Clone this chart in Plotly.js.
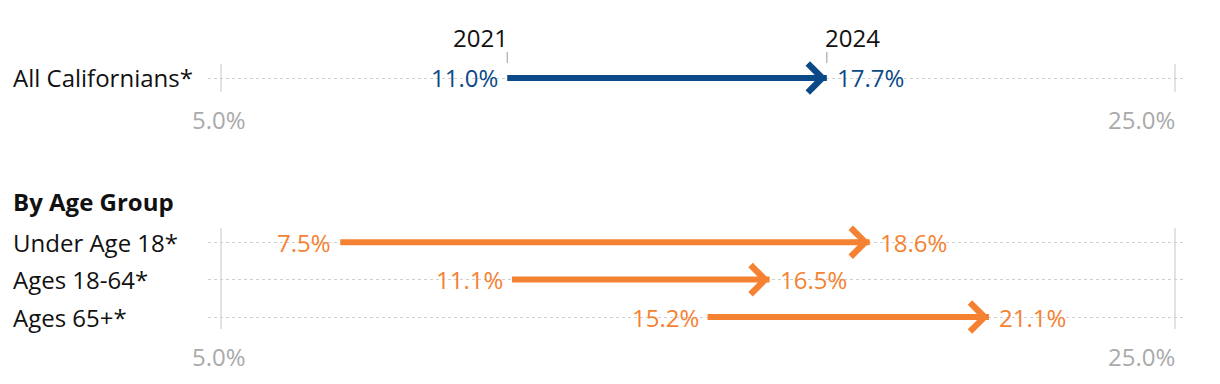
<!DOCTYPE html>
<html>
<head>
<meta charset="utf-8">
<script src="https://cdn.plot.ly/plotly-3.0.1.min.js"></script>
<style>html,body{margin:0;padding:0;background:#fff;}#chart{width:1220px;height:384px;}</style>
</head>
<body>
<div id="chart"></div>
<script>
// ---- data ----
var years = ['2021', '2024'];
var topCategories = ['All Californians*'];
var topStart = [11.0];
var topEnd = [17.7];
var groupTitle = 'By Age Group';
var ageCategories = ['Under Age 18*', 'Ages 18-64*', 'Ages 65+*'];
var ageStart = [7.5, 11.1, 15.2];
var ageEnd = [18.6, 16.5, 21.1];
var axisTickVals = [5, 25];
var axisTickText = ['5.0%', '25.0%'];

// ---- styling ----
var BLUE = '#0b4a86';
var ORANGE = '#f58232';
var FONT = 'Open Sans, Noto Sans, sans-serif';
var FS = 24;
var W = 1220, H = 384, ML = 208, MR = 34;
var plotW = W - ML - MR;
var xRange = [4.727, 25.23];

function fmt(v) { return v.toFixed(1) + '%'; }

var traces = [];
var annotations = [];
var shapes = [];

function addRows(cats, starts, ends, color, xa, ya) {
  for (var i = 0; i < cats.length; i++) {
    traces.push({
      type: 'scatter', mode: 'lines',
      x: [starts[i], ends[i]], y: [cats[i], cats[i]],
      xaxis: xa, yaxis: ya,
      line: {color: color, width: 6},
      hoverinfo: 'skip', showlegend: false, cliponaxis: false
    });
    annotations.push({
      x: ends[i], y: cats[i], xref: xa, yref: ya,
      ax: -20, ay: 0, axref: 'pixel', ayref: 'pixel',
      text: '', showarrow: true, arrowhead: 4, arrowsize: 1.12,
      arrowwidth: 5, arrowcolor: color, standoff: 0
    });
    annotations.push({
      x: starts[i], y: cats[i], xref: xa, yref: ya,
      text: fmt(starts[i]), showarrow: false, xanchor: 'right',
      xshift: -7, font: {family: FONT, size: FS, color: color}
    });
    annotations.push({
      x: ends[i], y: cats[i], xref: xa, yref: ya,
      text: fmt(ends[i]), showarrow: false, xanchor: 'left',
      xshift: 8, font: {family: FONT, size: FS, color: color}
    });
    annotations.push({
      x: (12 - ML) / plotW, y: cats[i], xref: 'paper', yref: ya,
      text: cats[i], showarrow: false, xanchor: 'left', xshift: -1,
      font: {family: FONT, size: FS, color: '#111'}
    });
  }
}

addRows(topCategories, topStart, topEnd, BLUE, 'x', 'y');
addRows(ageCategories, ageStart, ageEnd, ORANGE, 'x2', 'y2');

// axis value labels (5.0% centred, 25.0% right-aligned at its gridline)
[['x', 'y domain'], ['x2', 'y2 domain']].forEach(function (r) {
  annotations.push({
    x: axisTickVals[0], y: 0, xref: r[0], yref: r[1], yanchor: 'middle', yshift: -27,
    text: axisTickText[0], showarrow: false, xanchor: 'center', xshift: -2,
    font: {family: FONT, size: FS, color: '#aaaaaa'}
  });
  annotations.push({
    x: axisTickVals[1], y: 0, xref: r[0], yref: r[1], yanchor: 'middle', yshift: -27,
    text: axisTickText[1], showarrow: false, xanchor: 'right', xshift: 2,
    font: {family: FONT, size: FS, color: '#aaaaaa'}
  });
});

// year labels over the top row, with small tick marks
annotations.push({
  x: topStart[0], y: 1, xref: 'x', yref: 'y domain', yanchor: 'middle', yshift: 26,
  text: years[0], showarrow: false, xanchor: 'right', xshift: 3,
  font: {family: FONT, size: FS, color: '#111'}
});
annotations.push({
  x: topEnd[0], y: 1, xref: 'x', yref: 'y domain', yanchor: 'middle', yshift: 26,
  text: years[1], showarrow: false, xanchor: 'left', xshift: -4,
  font: {family: FONT, size: FS, color: '#111'}
});
[topStart[0], topEnd[0]].forEach(function (v) {
  shapes.push({
    type: 'line', xref: 'x', yref: 'paper', x0: v, x1: v,
    y0: 1 - 63 / H, y1: 1 - 52 / H, line: {color: '#999', width: 1}
  });
});
annotations.push({
  x: (12 - ML) / plotW, y: 1, xref: 'paper', yref: 'y2 domain', yanchor: 'middle', yshift: 27,
  text: '<b>' + groupTitle + '</b>', showarrow: false, xanchor: 'left', xshift: -1,
  font: {family: FONT, size: FS, color: '#111'}
});

function xAxis(anchor) {
  return {
    anchor: anchor, range: xRange, tickvals: axisTickVals, ticktext: axisTickText,
    showgrid: true, gridcolor: '#e3e3e3', gridwidth: 2, zeroline: false, showline: false,
    ticks: '', showticklabels: false, fixedrange: true
  };
}
function yAxis(anchor, domain, range, cats) {
  return {
    anchor: anchor, domain: domain, range: range, type: 'category',
    categoryorder: 'array', categoryarray: cats,
    showgrid: true, griddash: 'dot', gridcolor: '#cfcfcf', gridwidth: 1,
    showticklabels: false, ticks: '', zeroline: false, showline: false, fixedrange: true
  };
}

var layout = {
  width: W, height: H,
  margin: {l: ML, r: MR, t: 0, b: 0, pad: 0},
  paper_bgcolor: '#fff', plot_bgcolor: '#fff',
  showlegend: false,
  xaxis: xAxis('y'),
  yaxis: yAxis('x', [1 - 92 / H, 1 - 64 / H], [-0.5, 0.5], topCategories),
  xaxis2: xAxis('y2'),
  yaxis2: yAxis('x2', [1 - 329 / H, 1 - 228 / H], [2.32, -0.38], ageCategories),
  annotations: annotations,
  shapes: shapes
};

Plotly.newPlot('chart', traces, layout, {displayModeBar: false, staticPlot: true});
</script>
</body>
</html>
